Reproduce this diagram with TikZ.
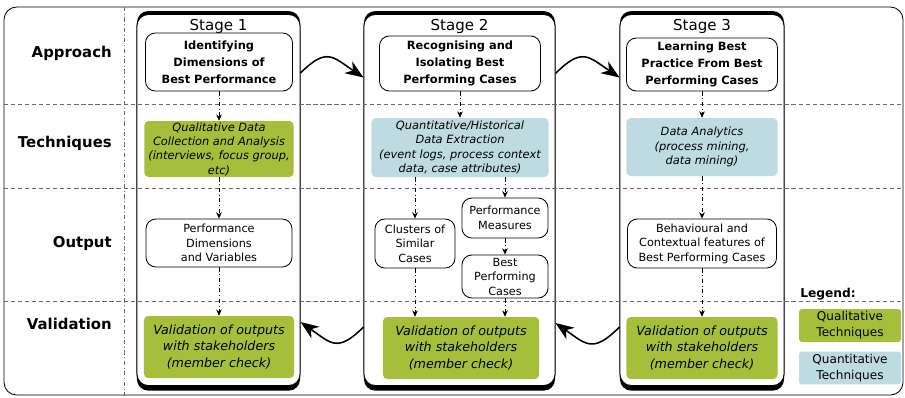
\documentclass[tikz,border=0pt]{standalone}
\usepackage{fontspec}
\setmainfont{DejaVu Sans}
\usetikzlibrary{arrows.meta}
\usetikzlibrary{calc}
\definecolor{qual}{RGB}{165,191,59}
\definecolor{quant}{RGB}{189,219,225}
\definecolor{raster}{RGB}{105,105,105}

\begin{document}
\begin{tikzpicture}[x=0.025cm, y=0.025cm,
    stage/.style={draw, fill=white, line width=0.7pt, rounded corners=8pt, minimum height=9.275cm,
        preaction={fill=black, transform canvas={yshift=2.4pt}},
        preaction={fill=black, transform canvas={yshift=-3.6pt}}},
    rowlabel/.style={anchor=base east, inner sep=0pt, font=\bfseries\fontsize{10.6}{13}\selectfont},
    approach/.style={draw, fill=white, line width=0.6pt, rounded corners=7pt, align=center, inner sep=0pt,
        font=\bfseries\fontsize{8.1}{12.2}\selectfont},
    tech/.style={rounded corners=3pt, align=center, inner sep=0pt, font=\itshape\fontsize{8.1}{10.2}\selectfont},
    outbox/.style={draw, fill=white, line width=0.6pt, rounded corners=7pt, align=center, inner sep=0pt,
        font=\fontsize{8}{10.3}\selectfont},
    valid/.style={fill=qual, rounded corners=3pt, align=center, inner sep=0pt,
        minimum height=1.55cm, font=\itshape\fontsize{9}{11.5}\selectfont},
    key/.style={rounded corners=2pt, align=center, inner sep=0pt, minimum width=2.55cm, minimum height=0.82cm,
        font=\fontsize{8.6}{11.3}\selectfont},
    flow/.style={dash dot, line width=0.5pt, -{Stealth[length=4.5pt,width=4pt]}},
    handover/.style={line width=1.1pt, -{Stealth[length=13pt,width=10pt,inset=4pt]}, looseness=1.5},
    grid/.style={raster, dash pattern=on 3pt off 2pt, line width=0.5pt}]

    \path[use as bounding box] (0,0) rectangle (905,-397);

    \draw[line width=0.6pt, rounded corners=9pt] (4,-7) rectangle (903,-395);

    \foreach \x/\cx/\w in {1/218.5/4.075, 2/459.5/4.775, 3/702/4.1}{
        \node[stage, minimum width=\w cm] (S\x) at (\cx,-200) {};
        \node[anchor=base, font=\fontsize{10.7}{13}\selectfont] (H\x) at (\cx,-30) {Stage \x};
    }

    \foreach \y in {104,188,301}
        \draw[grid] (4,-\y) -- (903,-\y);
    \draw[raster, dash dot, line width=0.5pt] (124,-7) -- (124,-397);

    \node[rowlabel] (approach) at (112,-57) {Approach};
    \node[rowlabel] (techniques) at (112,-147) {Techniques};
    \node[rowlabel] (output) at (112,-247) {Output};
    \node[rowlabel] (validation) at (112,-329) {Validation};

    % stage 1
    \node[approach, minimum width=3.675cm, minimum height=1.45cm] (A1) at (219,-62)
        {Identifying\\Dimensions of\\Best Performance};
    \node[tech, fill=qual, minimum width=3.725cm, minimum height=1.4cm] (T1) at (219,-149)
        {Qualitative Data\\Collection and Analysis\\(interviews, focus group,\\etc)};
    \node[outbox, minimum width=3.65cm, minimum height=1.2cm] (O1) at (219,-243)
        {Performance\\Dimensions\\and Variables};
    \node[valid, minimum width=3.75cm] (V1) at (219,-347)
        {Validation of outputs\\with stakeholders\\(member check)};

    % stage 2
    \node[approach, minimum width=4.025cm, minimum height=1.375cm] (A2) at (460,-63.5)
        {Recognising and\\Isolating Best\\Performing Cases};
    \node[tech, fill=quant, minimum width=4.425cm, minimum height=1.475cm] (T2) at (460,-147.5)
        {Quantitative/Historical\\Data Extraction\\(event logs, process context\\data, case attributes)};
    \node[outbox, minimum width=2cm, minimum height=1.225cm] (O2a) at (415,-243.5)
        {Clusters of\\Similar\\Cases};
    \node[outbox, minimum width=2.15cm, minimum height=1cm] (O2b) at (505,-218)
        {Performance\\Measures};
    \node[outbox, minimum width=2.15cm, minimum height=1.075cm] (O2c) at (505,-276.5)
        {Best\\Performing\\Cases};
    \node[valid, minimum width=3.9cm] (V2) at (461,-348)
        {Validation of outputs\\with stakeholders\\(member check)};

    % stage 3
    \node[approach, minimum width=3.775cm, minimum height=1.325cm] (A3) at (702,-64.5)
        {Learning Best\\Practice From Best\\Performing Cases};
    \node[tech, fill=quant, minimum width=3.775cm, minimum height=1.45cm] (T3) at (702,-147)
        {Data Analytics\\(process mining,\\data mining)};
    \node[outbox, minimum width=3.725cm, minimum height=1.225cm] (O3) at (702,-243.5)
        {Behavioural and\\Contextual features of\\Best Performing Cases};
    \node[valid, minimum width=3.775cm] (V3) at (702,-348)
        {Validation of outputs\\with stakeholders\\(member check)};

    \foreach \x in {1,3}{
        \draw[flow] (A\x) -- (T\x);
        \draw[flow] (T\x) -- (O\x);
        \draw[flow] (O\x) -- (V\x);
    }
    \draw[flow] (A2) -- (T2);
    \draw[flow] (T2.south -| O2a) -- (O2a);
    \draw[flow] (T2.south -| O2b) -- (O2b);
    \draw[flow] (O2b) -- (O2c);
    \draw[flow] (O2a) -- (O2a |- V2.north);
    \draw[flow] (O2c) -- (O2c |- V2.north);

    \draw[handover] ($(S1.east |- A1)+(0,-11)$) to[out=45,in=146] ($(S2.west |- A2)+(0,-14)$);
    \draw[handover] ($(S2.east |- A2)+(0,-10)$) to[out=45,in=146] ($(S3.west |- A3)+(0,-13)$);
    \draw[handover] ($(S3.west |- V3)+(0,21)$) to[out=225,in=-35] ($(S2.east |- V2)+(0,25)$);
    \draw[handover] ($(S2.west |- V2)+(0,21)$) to[out=225,in=-35] ($(S1.east |- V1)+(0,25)$);

    % legend
    \node[font=\bfseries\fontsize{8.7}{11}\selectfont] (legend) at (828,-294) {Legend:};
    \node[key, fill=qual] (qualkey) at (850,-325.5) {Qualitative\\Techniques};
    \node[key, fill=quant] (quantkey) at (850,-368) {Quantitative\\Techniques};

\end{tikzpicture}
\end{document}
